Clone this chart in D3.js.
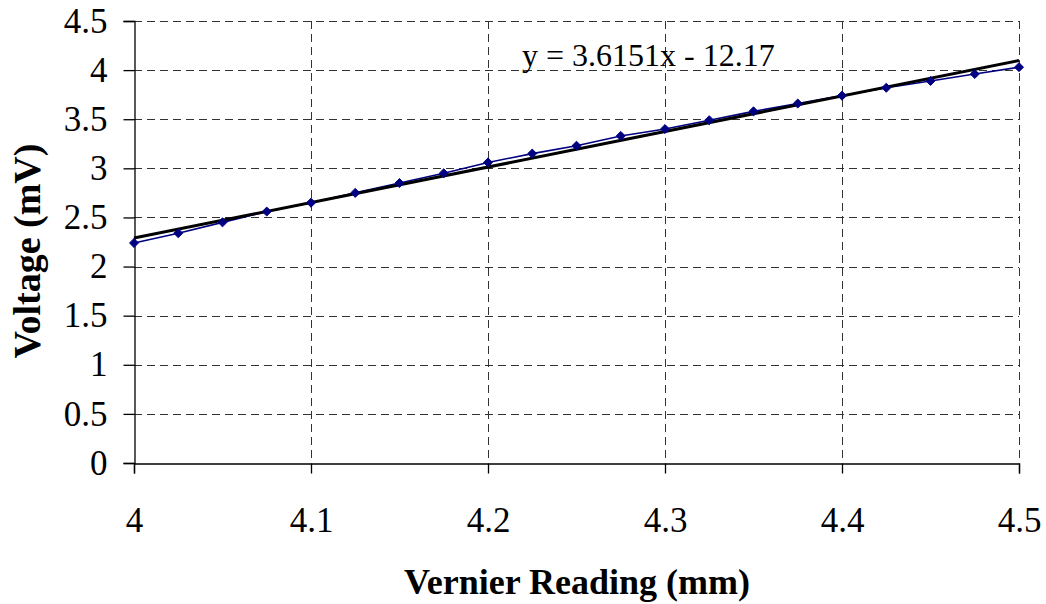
<!DOCTYPE html>
<html>
<head>
<meta charset="utf-8">
<script src="https://cdn.jsdelivr.net/npm/d3@7"></script>
<style>
  html, body { margin: 0; padding: 0; background: #fff; }
  svg { display: block; }
  text { font-family: "Liberation Serif", "Times New Roman", serif; fill: #000; }
</style>
</head>
<body>
<svg id="chart" width="1046" height="604"></svg>
<script>
// Vernier micrometer readings (mm) and measured voltage (mV)
const readings = [4.000, 4.025, 4.050, 4.075, 4.100, 4.125, 4.150, 4.175, 4.200, 4.225,
                  4.250, 4.275, 4.300, 4.325, 4.350, 4.375, 4.400, 4.425, 4.450, 4.475, 4.500];
const voltages = [2.24, 2.34, 2.45, 2.56, 2.65, 2.75, 2.85, 2.95, 3.06, 3.15,
                  3.23, 3.33, 3.40, 3.49, 3.58, 3.66, 3.74, 3.82, 3.89, 3.96, 4.03];

// Linear trendline coefficients
const slope = 3.6151;
const intercept = -12.17;

const xTicks = [4, 4.1, 4.2, 4.3, 4.4, 4.5];
const yTicks = [0, 0.5, 1, 1.5, 2, 2.5, 3, 3.5, 4, 4.5];

const svg = d3.select("#chart");
const plotLeft = 134, plotRight = 1019, plotTop = 21, plotBottom = 463;

const x = d3.scaleLinear().domain([4, 4.5]).range([plotLeft, plotRight]);
const y = d3.scaleLinear().domain([0, 4.5]).range([plotBottom, plotTop]);

// Dashed grid
const grid = svg.append("g").attr("stroke", "#333").attr("stroke-width", 1)
  .attr("stroke-dasharray", "8,5").attr("shape-rendering", "crispEdges");
grid.selectAll("line.h").data(yTicks.filter(d => d > 0)).join("line")
  .attr("x1", plotLeft).attr("x2", plotRight)
  .attr("y1", d => Math.round(y(d)) + 0.5).attr("y2", d => Math.round(y(d)) + 0.5);
grid.selectAll("line.v").data(xTicks.filter(d => d > 4)).join("line")
  .attr("y1", plotTop).attr("y2", plotBottom)
  .attr("x1", d => Math.round(x(d)) + 0.5).attr("x2", d => Math.round(x(d)) + 0.5);

// Axes
const yAxis = svg.append("g").attr("transform", `translate(${plotLeft + 0.5},0)`)
  .call(d3.axisLeft(y).tickValues(yTicks).tickSize(11).tickPadding(16).tickFormat(d3.format("")));
const xAxis = svg.append("g").attr("transform", `translate(0,${plotBottom + 0.5})`)
  .call(d3.axisBottom(x).tickValues(xTicks).tickSize(10).tickPadding(34).tickFormat(d3.format("")));
[yAxis, xAxis].forEach(a => {
  a.attr("font-family", "Liberation Serif").attr("font-size", 35);
  a.select(".domain").attr("stroke", "#000").attr("stroke-width", 1.3);
  a.selectAll(".tick line").attr("stroke", "#000").attr("stroke-width", 1.3);
  a.selectAll(".tick text").style("font-family", "'Liberation Serif', serif").style("font-size", "35px");
});

// Data series
const pts = readings.map((r, i) => [r, voltages[i]]);
svg.append("path").datum(pts)
  .attr("fill", "none").attr("stroke", "#000080").attr("stroke-width", 1.6)
  .attr("d", d3.line().x(d => x(d[0])).y(d => y(d[1])));

// Trendline
const tx = [4, 4.5];
svg.append("path").datum(tx.map(v => [v, slope * v + intercept]))
  .attr("fill", "none").attr("stroke", "#000").attr("stroke-width", 3)
  .attr("d", d3.line().x(d => x(d[0])).y(d => y(d[1])));

// Diamond markers
const diamond = d3.symbol().type(d3.symbolDiamond2).size(52);
svg.append("g").selectAll("path").data(pts).join("path")
  .attr("transform", d => `translate(${x(d[0])},${y(d[1])})`)
  .attr("d", diamond).attr("fill", "#000080").attr("stroke", "#000080").attr("stroke-width", 1);

// Equation label
svg.append("text").attr("x", 522).attr("y", 66)
  .style("font-size", "32px")
  .text(`y = ${slope}x - ${Math.abs(intercept)}`);

// Axis titles
svg.append("text").attr("x", 577).attr("y", 594)
  .attr("text-anchor", "middle").style("font-size", "36px").style("font-weight", "bold")
  .text("Vernier Reading (mm)");
svg.append("text").attr("transform", "translate(40,251) rotate(-90)")
  .attr("text-anchor", "middle").style("font-size", "38px").style("font-weight", "bold")
  .text("Voltage (mV)");
</script>
</body>
</html>
